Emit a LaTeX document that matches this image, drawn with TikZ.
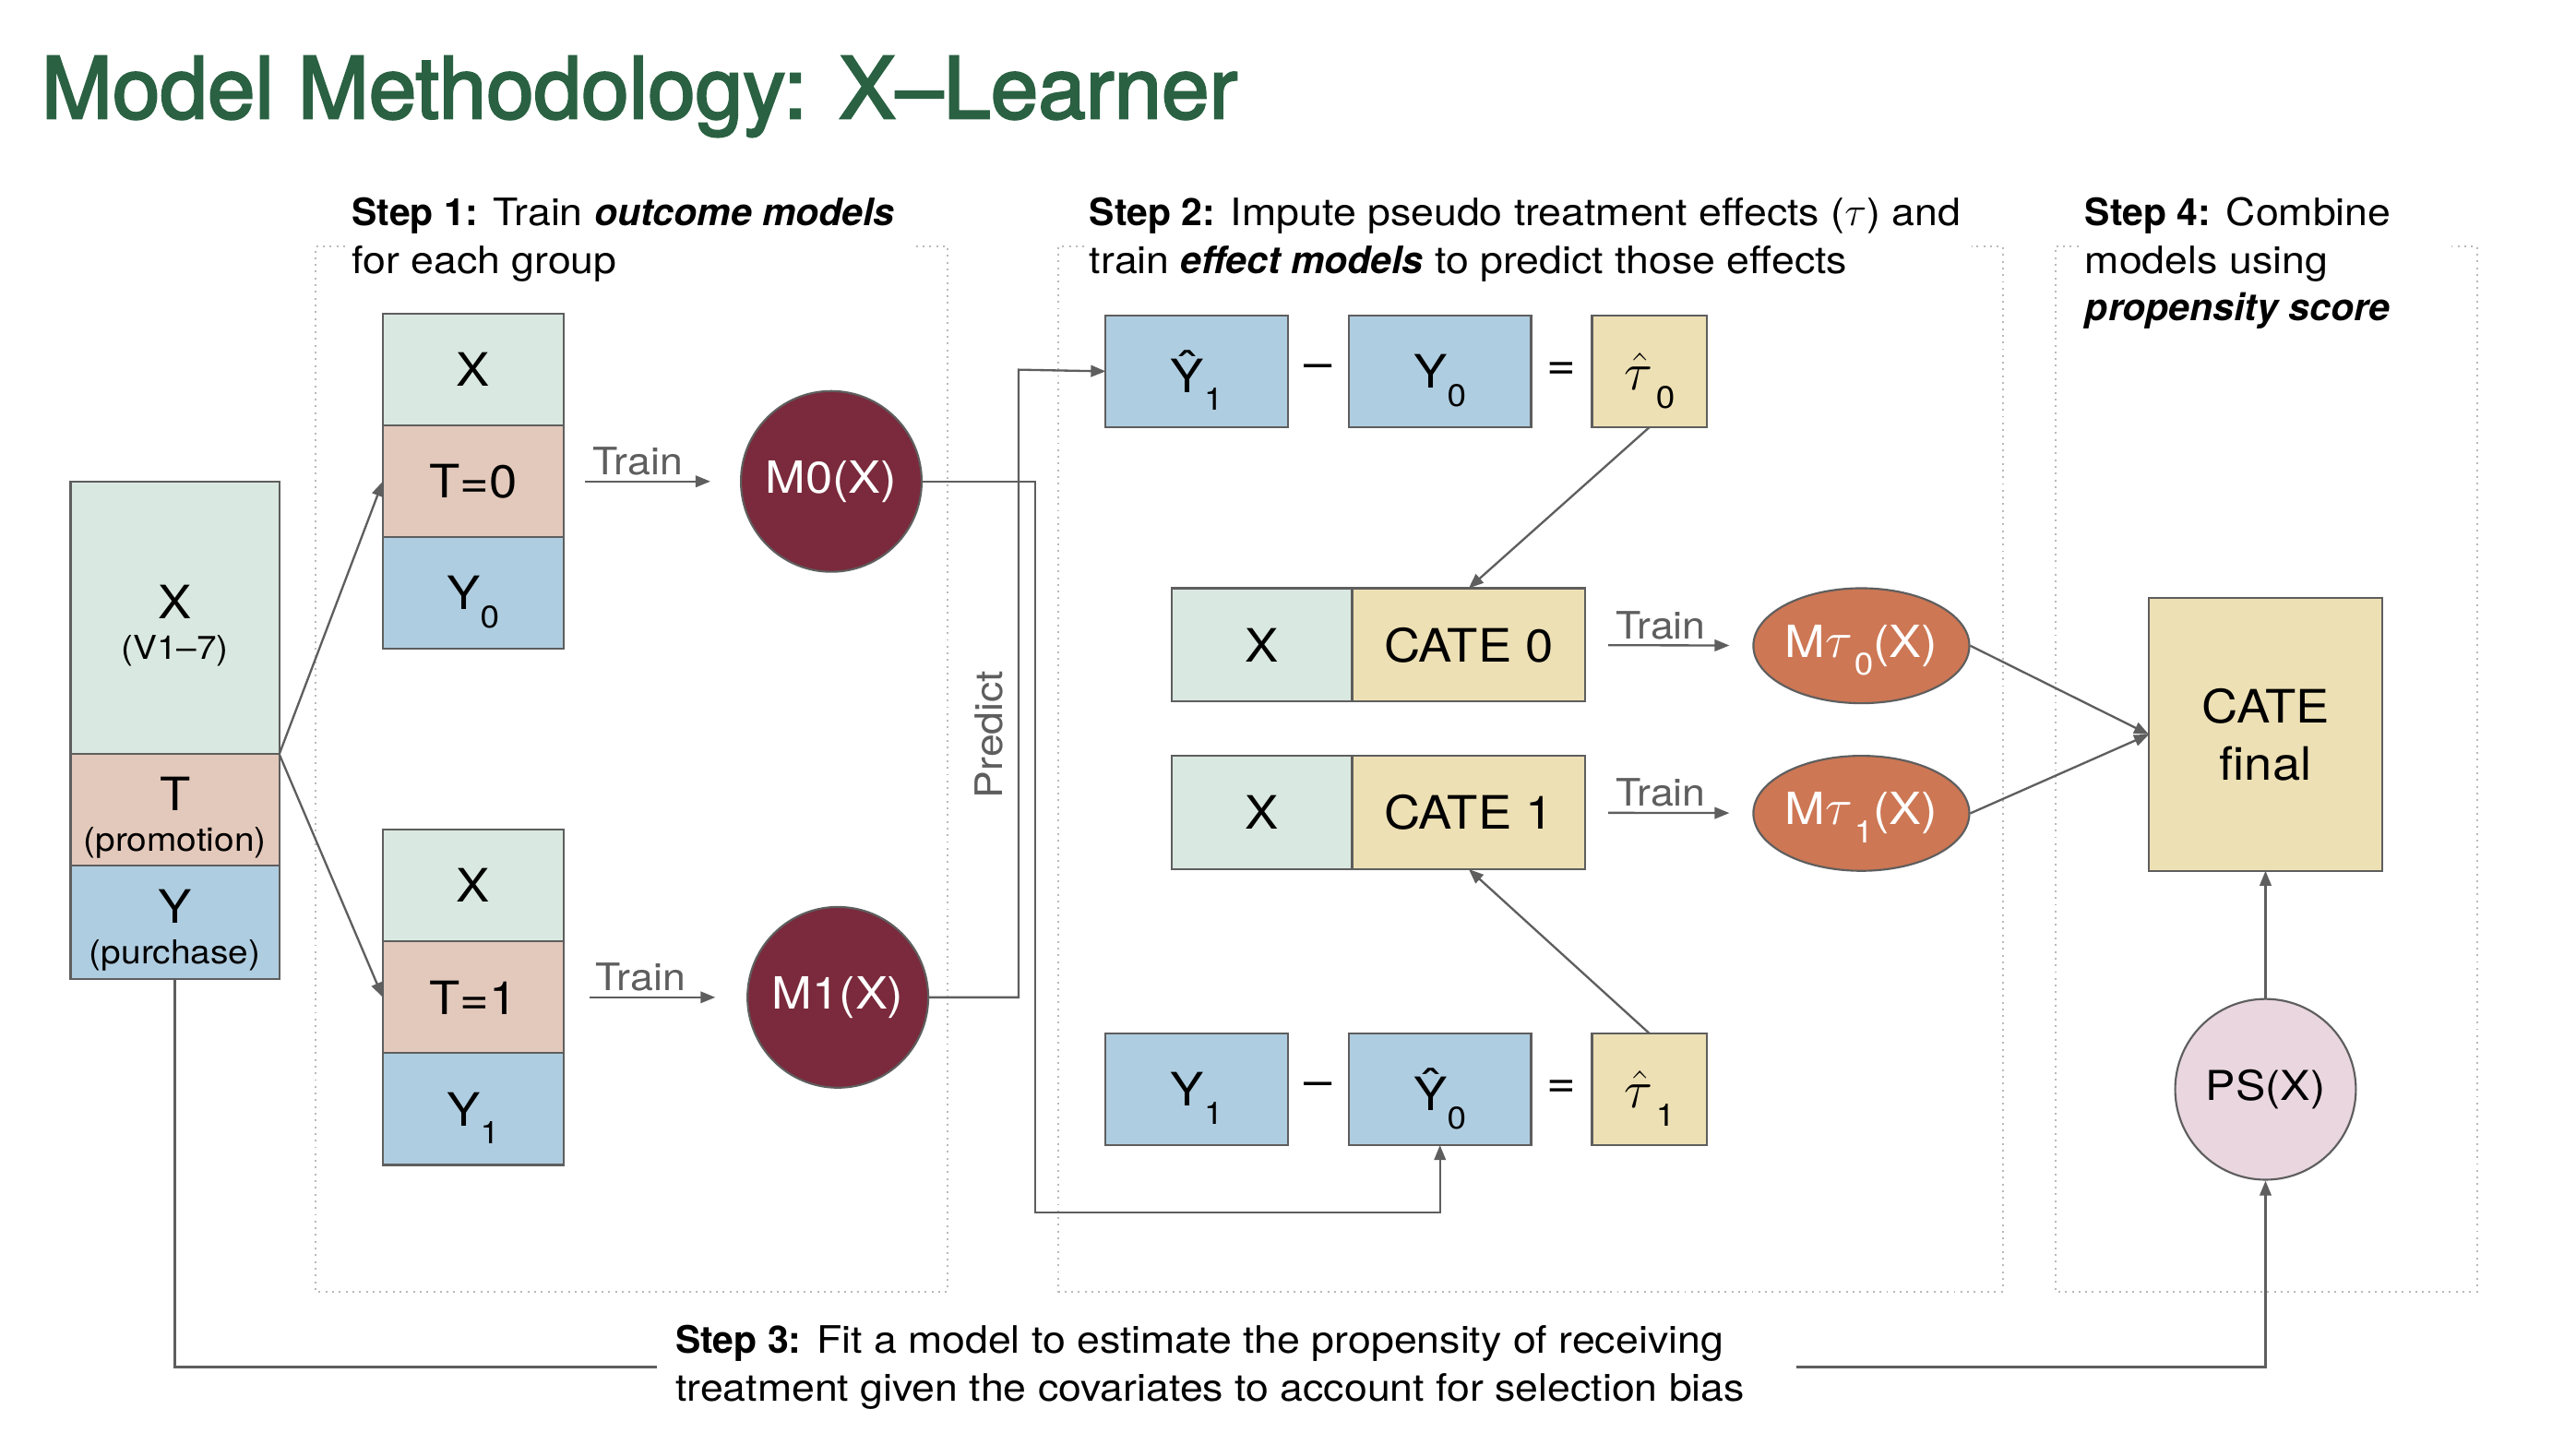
\documentclass[tikz,border=0pt]{standalone}
\usepackage{fontspec}
\setmainfont{TeX Gyre Heros}[UprightFeatures={FakeStretch=1.09}]
\newfontfamily\titlefont{TeX Gyre Heros}[FakeBold=2.5]
\usepackage{xcolor}
\usetikzlibrary{arrows.meta, positioning, calc, shapes.geometric}

\definecolor{xgreen}{HTML}{D9E8E0}
\definecolor{tpeach}{HTML}{E3C9BB}
\definecolor{yblue}{HTML}{AFCDE0}
\definecolor{catey}{HTML}{EDE0B4}
\definecolor{maroon}{HTML}{7A2A3C}
\definecolor{terra}{HTML}{CD7754}
\definecolor{pspink}{HTML}{E9D6DE}
\definecolor{edge}{HTML}{5E5E5E}
\definecolor{titlegreen}{HTML}{2A6142}

\newcommand{\lowsub}[1]{\raisebox{-11pt}[0pt][0pt]{\fontsize{19}{19}\selectfont#1}}
\newcommand{\upstrut}{\rule{0pt}{30pt}}
\newcommand{\tauhat}{\scalebox{1.3}{$\hat{\tau}$}\kern2pt}
\newcommand{\taum}{\scalebox{1.25}{$\tau$}\kern1pt}

\begin{document}
\begin{tikzpicture}[
    x=1pt, y=-1pt,
    >={Triangle[length=9pt, width=7pt]},
    cell/.style={draw=edge, line width=1.2pt, fill=#1,
        minimum width=110pt, minimum height=68pt,
        inner sep=0pt, outer sep=0pt, align=center,
        font=\fontsize{28}{30}\selectfont},
    model/.style={circle, draw=edge, line width=1.2pt, fill=#1,
        minimum size=110pt, inner sep=0pt, font=\fontsize{27}{30}\selectfont},
    tmodel/.style={ellipse, draw=edge, line width=1.2pt, fill=terra, text=white,
        minimum width=127pt, minimum height=70pt, inner sep=0pt,
        font=\fontsize{27}{30}\selectfont},
    op/.style={font=\fontsize{28}{30}\selectfont, inner sep=0pt},
    arr/.style={->, line width=1.3pt, edge},
    link/.style={line width=1.3pt, edge},
    grp/.style={draw=gray!55, line width=1.1pt, dash pattern=on 1.1pt off 3pt},
    lbl/.style={text=edge, font=\fontsize{23}{25}\selectfont, inner sep=3pt},
    stepcap/.style={anchor=north west, align=left, inner sep=0pt,
        font=\fontsize{23}{29}\selectfont},
]
\path[use as bounding box, fill=white] (0,0) rectangle (1568,879);

%% group frames
\draw[grp] (210,150) -| (192,786) -| (577,150) -- (555,150);
\draw[grp] (660,150) -| (644,786) -| (1219,150) -- (1200,150);
\draw[grp] (1265,150) -| (1251,786) -| (1508,150) -- (1490,150);

%% title and captions
\node[anchor=base west, inner sep=0pt, text=titlegreen,
    font=\titlefont\fontsize{52}{52}\selectfont] (title) at (25,72) {Model Methodology: X–Learner};
\node[stepcap] (cap1) at (214,120) {\textbf{Step 1:} Train \textbf{\textit{outcome models}}\\for each group};
\node[stepcap] (cap2) at (663,120) {\textbf{Step 2:} Impute pseudo treatment effects ($\tau$) and\\train \textbf{\textit{effect models}} to predict those effects};
\node[stepcap] (cap4) at (1269,120) {\textbf{Step 4:} Combine\\models using\\\textbf{\textit{propensity score}}};
\node[stepcap, anchor=west, inner xsep=11pt] (cap3) at (400,832) {\textbf{Step 3:} Fit a model to estimate the propensity of receiving\\treatment given the covariates to account for selection bias};

%% data
\node[cell=xgreen, minimum width=127pt, minimum height=166pt, anchor=north west] (bx) at (43,293)
    {\upstrut X\\[-5pt]{\fontsize{20}{22}\selectfont(V1--7)}};
\node[cell=tpeach, minimum width=127pt, below=0pt of bx] (bt)
    {\upstrut T\\[-5pt]{\fontsize{20}{22}\selectfont(promotion)}};
\node[cell=yblue, minimum width=127pt, minimum height=69pt, below=0pt of bt] (by)
    {\upstrut Y\\[-5pt]{\fontsize{20}{22}\selectfont(purchase)}};

%% step 1
\node[cell=xgreen, anchor=north west] (ax0) at (233,191) {X};
\node[cell=tpeach, below=0pt of ax0] (at0) {T=0};
\node[cell=yblue, below=0pt of at0] (ay0) {Y\lowsub{0}};
\node[cell=xgreen, anchor=north west] (ax1) at (233,505) {X};
\node[cell=tpeach, below=0pt of ax1] (at1) {T=1};
\node[cell=yblue, below=0pt of at1] (ay1) {Y\lowsub{1}};
\node[model=maroon, text=white] (m0) at (506,293) {M0(X)};
\node[model=maroon, text=white] (m1) at (510,607) {M1(X)};

%% step 2
\node[cell=yblue, minimum width=111pt, anchor=north west] (yh1) at (673,192) {Ŷ\lowsub{1}};
\node[cell=yblue, minimum width=111pt, right=37pt of yh1] (yo0) {Y\lowsub{0}};
\node[cell=catey, minimum width=70pt, right=37pt of yo0] (tau0) {\tauhat\lowsub{0}};
\node[op] (mi0) at ($(yh1.east)!0.5!(yo0.west)$) {--};
\node[op] (eq0) at ($(yo0.east)!0.5!(tau0.west)$) {=};
\node[cell=yblue, minimum width=111pt, anchor=north west] (yo1) at (673,629) {Y\lowsub{1}};
\node[cell=yblue, minimum width=111pt, right=37pt of yo1] (yh0) {Ŷ\lowsub{0}};
\node[cell=catey, minimum width=70pt, right=37pt of yh0] (tau1) {\tauhat\lowsub{1}};
\node[op] (mi1) at ($(yo1.east)!0.5!(yh0.west)$) {--};
\node[op] (eq1) at ($(yh0.east)!0.5!(tau1.west)$) {=};

\node[cell=xgreen, minimum height=69pt, anchor=north west] (cx0) at (713,358) {X};
\node[cell=catey, minimum width=142pt, minimum height=69pt, right=0pt of cx0] (c0) {CATE 0};
\node[cell=xgreen, minimum height=69pt, anchor=north west] (cx1) at (713,460) {X};
\node[cell=catey, minimum width=142pt, minimum height=69pt, right=0pt of cx1] (c1) {CATE 1};
\node[tmodel] (mt0) at (1133,393) {M\taum\lowsub{0}(X)};
\node[tmodel] (mt1) at (1133,495) {M\taum\lowsub{1}(X)};

%% step 4
\node[cell=catey, minimum width=142pt, minimum height=166pt, anchor=north west] (cf) at (1308,364)
    {CATE\\[5pt]final};
\node[model=pspink, font=\fontsize{25}{28}\selectfont] (ps) at (1379,663) {PS(X)};

%% Arrows
\draw[arr] (bx.south east) -- (at0.west);
\draw[arr] (bx.south east) -- (at1.west);
\draw[arr, shorten <=13pt, shorten >=18pt] (at0) -- (m0) node[lbl, pos=0.42, above] {Train};
\draw[arr, shorten <=16pt, shorten >=19pt] (at1) -- (m1) node[lbl, pos=0.42, above] {Train};
\coordinate (p0) at (630,738);
\coordinate (p1) at (620,225);
\draw[arr] (m0.east) -| (p0) -| (yh0.south);
\draw[arr] (m1.east) -| (p1) -- (yh1.west);
\node[lbl, rotate=90] (pred) at (602,447) {Predict};
\draw[arr] (tau0.south) -- (c0.north);
\draw[arr] (tau1.north) -- (c1.south);
\draw[arr, shorten <=14pt, shorten >=14pt] (c0) -- (mt0) node[lbl, pos=0.45, above] {Train};
\draw[arr, shorten <=14pt, shorten >=14pt] (c1) -- (mt1) node[lbl, pos=0.45, above] {Train};
\draw[arr] (mt0.east) -- (cf.west);
\draw[arr] (mt1.east) -- (cf.west);
\draw[arr] (ps) -- (cf);
\draw[link] (by.south) |- (cap3.west);
\draw[arr] ([xshift=20pt]cap3.east) -| (ps.south);
\end{tikzpicture}
\end{document}
